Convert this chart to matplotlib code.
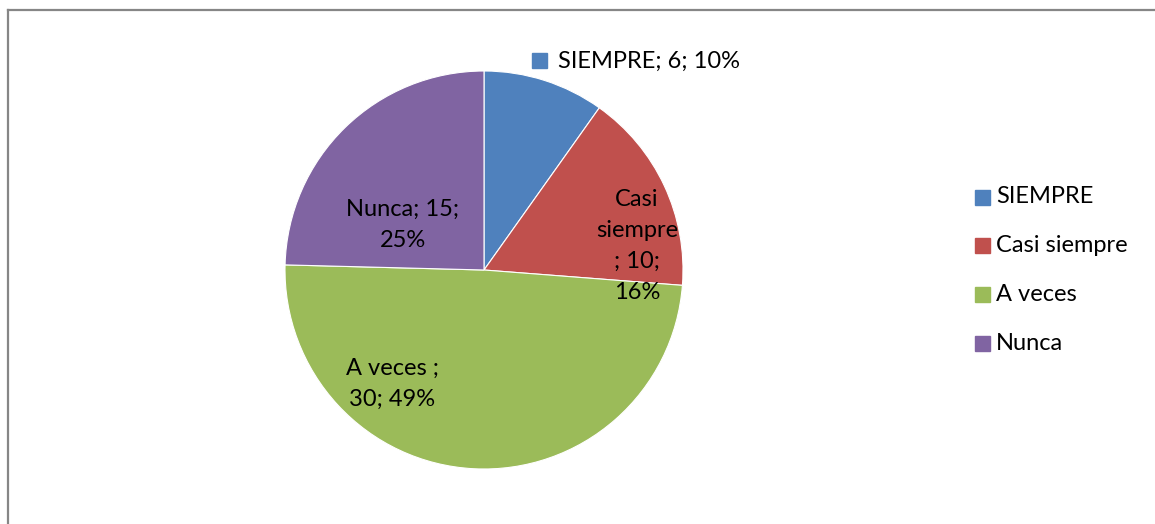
import matplotlib
matplotlib.use("Agg")
import matplotlib.pyplot as plt
from matplotlib.patches import Rectangle
from matplotlib.lines import Line2D

categories = ["SIEMPRE", "Casi siempre", "A veces", "Nunca"]
counts = [6, 10, 30, 15]
percents = [10, 16, 49, 25]
colors = ["#4F81BD", "#C0504D", "#9BBB59", "#8064A2"]

W, H = 1155, 524
plt.rcParams["font.family"] = ["Lato", "DejaVu Sans"]
FS = 17
LS = 1.6

fig = plt.figure(figsize=(W / 100, H / 100), dpi=100)


def px(x, y):
    return x / W, 1 - y / H


# chart area border (top and left visible)
fig.add_artist(Line2D([8 / W, 8 / W], [0, 1 - 10 / H], color="#868686", lw=1.6))
fig.add_artist(Line2D([8 / W, 1], [1 - 10 / H, 1 - 10 / H], color="#868686", lw=1.6))

cx, cy, r = 484, 270, 199
ax = fig.add_axes([(cx - r) / W, 1 - (cy + r) / H, 2 * r / W, 2 * r / H])
ax.pie(counts, colors=colors, startangle=90, counterclock=False,
       wedgeprops=dict(linewidth=0.8, edgecolor="white"))
ax.set_aspect("equal")
ax.set_xlim(-1, 1)
ax.set_ylim(-1, 1)

labels = [
    f"{categories[0]}; {counts[0]}; {percents[0]}%",
    f"Casi\nsiempre\n; {counts[1]};\n{percents[1]}%",
    f"{categories[2]} ;\n{counts[2]}; {percents[2]}%",
    f"{categories[3]}; {counts[3]};\n{percents[3]}%",
]

# SIEMPRE label outside with its key
fig.add_artist(Rectangle(px(532, 68), 15 / W, 15 / H, color=colors[0]))
fig.text(*px(558, 61), labels[0], fontsize=FS, ha="left", va="center")
fig.text(*px(637, 246), labels[1], fontsize=FS, ha="center", va="center",
         linespacing=LS)
fig.text(*px(392, 384), labels[2], fontsize=FS, ha="center", va="center",
         linespacing=LS)
fig.text(*px(403, 225), labels[3], fontsize=FS, ha="center", va="center",
         linespacing=LS)

# legend
for i, (cat, col) in enumerate(zip(categories, colors)):
    y = 197 + i * 48.7
    fig.add_artist(Rectangle(px(975, y + 7.5), 15 / W, 15 / H, color=col))
    fig.text(*px(996, y), cat, fontsize=FS, ha="left", va="center")

fig.savefig("out.png", dpi=100)
